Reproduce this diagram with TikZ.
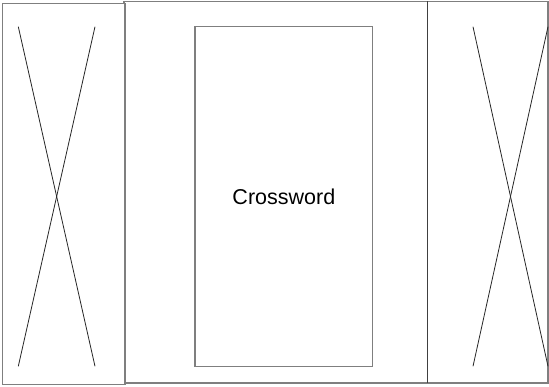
\documentclass[tikz,border=0pt]{standalone}
\usepackage{fontspec}
\setmainfont{Liberation Sans}
\begin{document}
\begin{tikzpicture}[x=1pt,y=-1pt,
  panel/.style={draw=boxgray,line width=1.3pt,inner sep=0pt,outer sep=0pt,rectangle},
  cross/.style={draw=black!85,line width=0.8pt},
  divider/.style={draw=black!75,line width=0.9pt}]
\definecolor{boxgray}{HTML}{7F7F7F}
\useasboundingbox (0,0) rectangle (549,387);
\node[panel,minimum width=424pt,minimum height=381.7pt] (outer) at (336,192.15) {};
\node[panel,minimum width=122.3pt,minimum height=381pt,fill=white] (leftbox) at (63.85,193.8) {};
\node[inner sep=0pt,outer sep=0pt,minimum width=121pt,minimum height=381.7pt] (rightbox) at (487.5,192.15) {};
\node[panel,minimum width=177.7pt,minimum height=340pt,font=\fontsize{21.5}{25}\selectfont] (centerbox) at (283.85,196.7) {Crossword};
\draw[divider] (rightbox.north west) -- (rightbox.south west);
\coordinate (la) at (18.3,26.7);
\coordinate (lb) at (95,26.7);
\coordinate (lc) at (18.3,366.3);
\coordinate (ld) at (95,366.3);
\coordinate (ra) at (473,26.7);
\coordinate (rb) at (548,26.7);
\coordinate (rc) at (473,366.3);
\coordinate (rd) at (548,366.3);
\draw[cross] (la) -- (ld);
\draw[cross] (lb) -- (lc);
\draw[cross] (ra) -- (rd);
\draw[cross] (rb) -- (rc);
\end{tikzpicture}
\end{document}
